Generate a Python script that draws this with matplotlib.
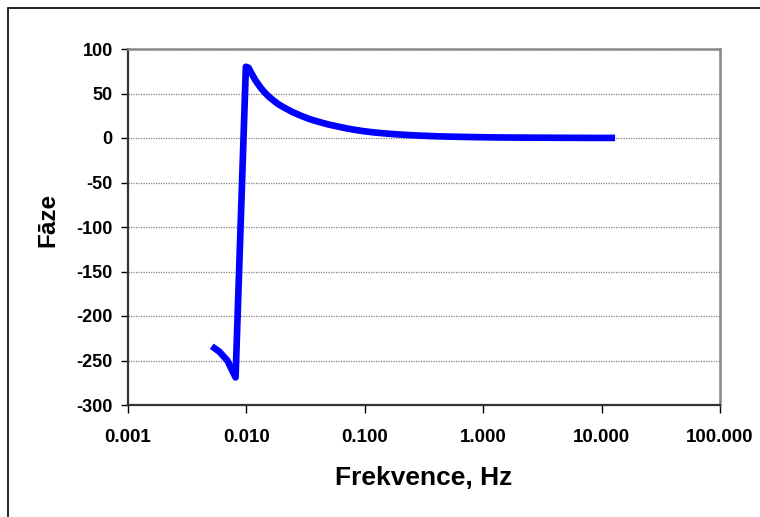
import matplotlib
matplotlib.use("Agg")
import matplotlib.pyplot as plt
from matplotlib.patches import Rectangle
from matplotlib.ticker import FuncFormatter, FixedLocator

plt.rcParams['font.family'] = ['Liberation Sans', 'DejaVu Sans']
plt.rcParams['font.weight'] = 'bold'
plt.rcParams['axes.unicode_minus'] = False

# frequency sweep, Hz
freq = [0.0051, 0.0059, 0.0069, 0.0081, 0.0099, 0.0104, 0.0110, 0.0119,
        0.0131, 0.0143, 0.0156, 0.0170, 0.0186,
        0.0203, 0.0242, 0.0289, 0.0346, 0.0412, 0.0492, 0.0588, 0.0702,
        0.0838, 0.100, 0.119, 0.143, 0.170, 0.203, 0.242, 0.289, 0.346,
        0.412, 0.492, 0.588, 0.702, 0.838, 1.00, 1.19, 1.43, 1.70, 2.03,
        2.42, 2.89, 3.46, 4.12, 4.92, 5.88, 7.02, 8.38, 10.0, 11.9, 13.0]
# phase, degrees
phase = [-234, -240, -250, -269, 80, 79, 73, 65,
         57, 51, 46, 42, 38,
         35, 29.5, 25, 21, 18, 15.2, 13, 10.8,
         9, 7.5, 6.3, 5.3, 4.5, 3.8, 3.2, 2.7, 2.3,
         1.9, 1.6, 1.4, 1.2, 1.0, 0.85, 0.7, 0.6, 0.5, 0.45,
         0.4, 0.35, 0.3, 0.25, 0.2, 0.2, 0.15, 0.1, 0.1, 0.1, 0.1]

x_ticks = [0.001, 0.01, 0.1, 1, 10, 100]
y_ticks = [-300, -250, -200, -150, -100, -50, 0, 50, 100]

fig = plt.figure(figsize=(7.6, 5.17), dpi=100)
ax = fig.add_axes([128/760, 1 - 405/517, 592/760, 356/517])

# outer chart frame
fig.patches.append(Rectangle((8/760, -0.2), 1.2, 1 - 8/517 + 0.2,
                             transform=fig.transFigure, fill=False,
                             edgecolor='black', linewidth=1.2))

ax.plot(freq, phase, color='#0000ff', linewidth=4.8, solid_joinstyle='round',
        solid_capstyle='butt', zorder=3)

ax.set_xscale('log')
ax.set_xlim(0.001, 100)
ax.set_ylim(-300, 100)
ax.xaxis.set_major_locator(FixedLocator(x_ticks))
ax.xaxis.set_minor_locator(FixedLocator([]))
ax.xaxis.set_major_formatter(FuncFormatter(lambda v, p: f"{v:.3f}"))
ax.set_yticks(y_ticks)
ax.yaxis.set_major_formatter(FuncFormatter(lambda v, p: f"{int(v)}"))

ax.grid(axis='y', color='#808080', linestyle=(0, (1, 1)), linewidth=0.9)
ax.set_axisbelow(True)

for side in ['top', 'right']:
    ax.spines[side].set_color('#888888')
    ax.spines[side].set_linewidth(1.8)
for side in ['left', 'bottom']:
    ax.spines[side].set_color('#333333')
    ax.spines[side].set_linewidth(1.6)

ax.tick_params(axis='y', direction='out', length=5, width=1, pad=6,
               labelsize=13, colors='black')
ax.tick_params(axis='x', direction='out', length=6, width=1, pad=11,
               labelsize=13.5, colors='black')

fig.text(424/760, 1 - 478/517, 'Frekvence, Hz', ha='center', va='center',
         fontsize=19, fontweight='bold')
fig.text(48/760, 1 - 220/517, 'Fāze', ha='center', va='center',
         rotation=90, fontsize=17.5, fontweight='bold')

fig.savefig('out.png', dpi=100)
